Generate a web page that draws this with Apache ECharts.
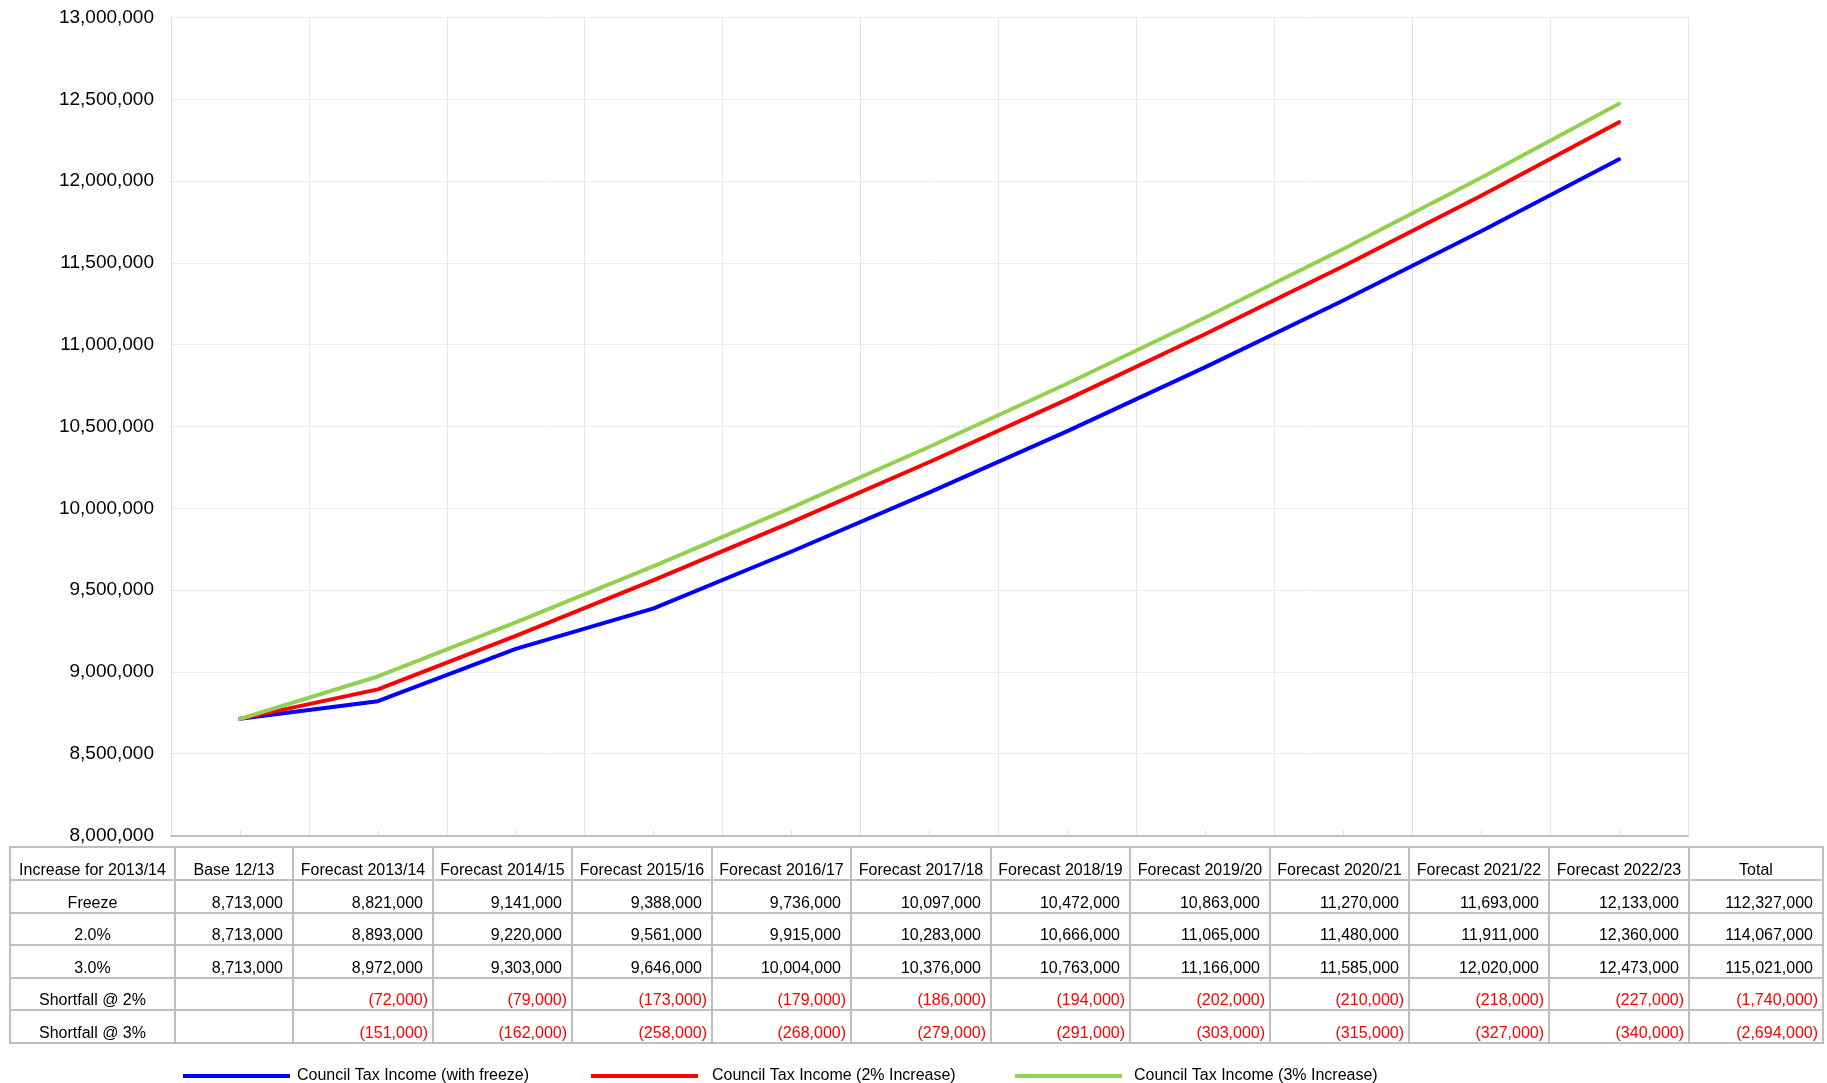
<!DOCTYPE html>
<html>
<head>
<meta charset="utf-8">
<script src="https://cdn.jsdelivr.net/npm/echarts@6/dist/echarts.min.js"></script>
<style>
html,body{margin:0;padding:0;background:#fff;}
#chart{width:1827px;height:1083px;}
</style>
</head>
<body>
<div id="chart"></div>
<script>
const categories = ['Base 12/13','Forecast 2013/14','Forecast 2014/15','Forecast 2015/16','Forecast 2016/17','Forecast 2017/18','Forecast 2018/19','Forecast 2019/20','Forecast 2020/21','Forecast 2021/22','Forecast 2022/23'];
const seriesNames = ['Council Tax Income (with freeze)','Council Tax Income (2% Increase)','Council Tax Income (3% Increase)'];
const freeze = [8713000, 8821000, 9141000, 9388000, 9736000, 10097000, 10472000, 10863000, 11270000, 11693000, 12133000];
const inc2 = [8713000, 8893000, 9220000, 9561000, 9915000, 10283000, 10666000, 11065000, 11480000, 11911000, 12360000];
const inc3 = [8713000, 8972000, 9303000, 9646000, 10004000, 10376000, 10763000, 11166000, 11585000, 12020000, 12473000];
const shortfall2 = [null, -72000, -79000, -173000, -179000, -186000, -194000, -202000, -210000, -218000, -227000];
const shortfall3 = [null, -151000, -162000, -258000, -268000, -279000, -291000, -303000, -315000, -327000, -340000];
const totals = [112327000, 114067000, 115021000, -1740000, -2694000];
const rowLabels = ['Freeze','2.0%','3.0%','Shortfall @ 2%','Shortfall @ 3%'];
const firstHeader = 'Increase for 2013/14';
const totalHeader = 'Total';
const yTicks = {min: 8000000, max: 13000000, interval: 500000};

const FONT = "'Liberation Sans', Arial, sans-serif";
function fmt(n){
  if (n === null || n === undefined) return '';
  const s = String(Math.abs(n)).replace(/\B(?=(\d{3})+(?!\d))/g, ',');
  return n < 0 ? '(' + s + ')' : s;
}

// table layout
const colEdges = [10, 175, 293, 433, 572, 712, 851, 991, 1130, 1270, 1409, 1549, 1689, 1823];
const rowEdges = [847, 880, 913, 945, 978, 1010, 1043];
const rows = [freeze, inc2, inc3, shortfall2, shortfall3];
const TXT_OFF = 9;

const graphics = [];
const borderColor = '#bfbfbf';
rowEdges.forEach(y => graphics.push({type:'line', shape:{x1:colEdges[0]-1, y1:y, x2:colEdges[colEdges.length-1]+1, y2:y}, style:{stroke:borderColor, lineWidth:2}}));
colEdges.forEach(x => graphics.push({type:'line', shape:{x1:x, y1:rowEdges[0], x2:x, y2:rowEdges[rowEdges.length-1]}, style:{stroke:borderColor, lineWidth:2}}));

function cellText(txt, col, row, align, color){
  const x0 = colEdges[col], x1 = colEdges[col+1];
  const yb = rowEdges[row+1];
  let x, ta;
  if (align === 'center'){ x = (x0+x1)/2; ta='center'; }
  else { x = x1 - 10; ta='right'; }
  graphics.push({type:'text', x:x, y:yb-TXT_OFF, style:{text:txt, font:'16px '+FONT, fill:color||'#000', textAlign:ta, textVerticalAlign:'middle', align:ta, verticalAlign:'middle'}});
}
// header
cellText(firstHeader, 0, 0, 'center');
categories.forEach((c,i)=>cellText(c, i+1, 0, 'center'));
cellText(totalHeader, categories.length+1, 0, 'center');
// body
rows.forEach((arr, r) => {
  cellText(rowLabels[r], 0, r+1, 'center');
  arr.forEach((v,i) => {
    if (v === null) return;
    const neg = v < 0;
    const x1 = colEdges[i+2];
    graphics.push({type:'text', x: x1 - (neg?5:10), y: rowEdges[r+2]-TXT_OFF, style:{text:fmt(v), font:'16px '+FONT, fill: neg?'#ff0000':'#000', textAlign:'right', textVerticalAlign:'middle', align:'right', verticalAlign:'middle'}});
  });
  const t = totals[r];
  const neg = t < 0;
  graphics.push({type:'text', x: colEdges[colEdges.length-1] - (neg?5:10), y: rowEdges[r+2]-TXT_OFF, style:{text:fmt(t), font:'16px '+FONT, fill: neg?'#ff0000':'#000', textAlign:'right', textVerticalAlign:'middle', align:'right', verticalAlign:'middle'}});
});

const colors = ['#0000ff','#ff0000','#92d050'];
const dataSets = [freeze, inc2, inc3];
const legendLefts = [183, 591, 1015];
const legendPads = [2, 9, 7];

const chart = echarts.init(document.getElementById('chart'), null, {renderer:'canvas'});
chart.setOption({
  backgroundColor:'#fff',
  animation:false,
  grid:{left:171, right:139, top:17.5, bottom:247.5, containLabel:false},
  xAxis:{
    type:'category', data:categories, boundaryGap:true,
    axisLine:{show:true, lineStyle:{color:'#bfbfbf', width:2}},
    axisTick:{show:true, alignWithLabel:true, inside:true, length:5, lineStyle:{color:'#d9d9d9'}},
    axisLabel:{show:false},
    splitLine:{show:true, lineStyle:{color:'#e6e6e6', width:1}}
  },
  yAxis:{
    type:'value', min:yTicks.min, max:yTicks.max, interval:yTicks.interval,
    axisLine:{show:true, lineStyle:{color:'#e0e0e0', width:1}},
    axisTick:{show:false},
    axisLabel:{show:true, margin:17, color:'#000', fontSize:19, fontFamily:FONT, formatter:v=>fmt(v)},
    splitLine:{show:true, lineStyle:{color:'#ececec', width:1}}
  },
  legend: seriesNames.map((n,i)=>({
    data:[n], left:legendLefts[i], top:1068, padding:0, icon:'rect', itemWidth:107, itemHeight:4, itemGap:0,
    textStyle:{fontSize:16, fontFamily:FONT, color:'#000', padding:[0,0,0,legendPads[i]]}
  })),
  series: dataSets.map((d,i)=>({
    name:seriesNames[i], type:'line', data:d, symbol:'none', smooth:false,
    lineStyle:{color:colors[i], width:4, cap:'round', join:'round'},
    itemStyle:{color:colors[i]}
  })),
  graphic: graphics
});
</script>
</body>
</html>
